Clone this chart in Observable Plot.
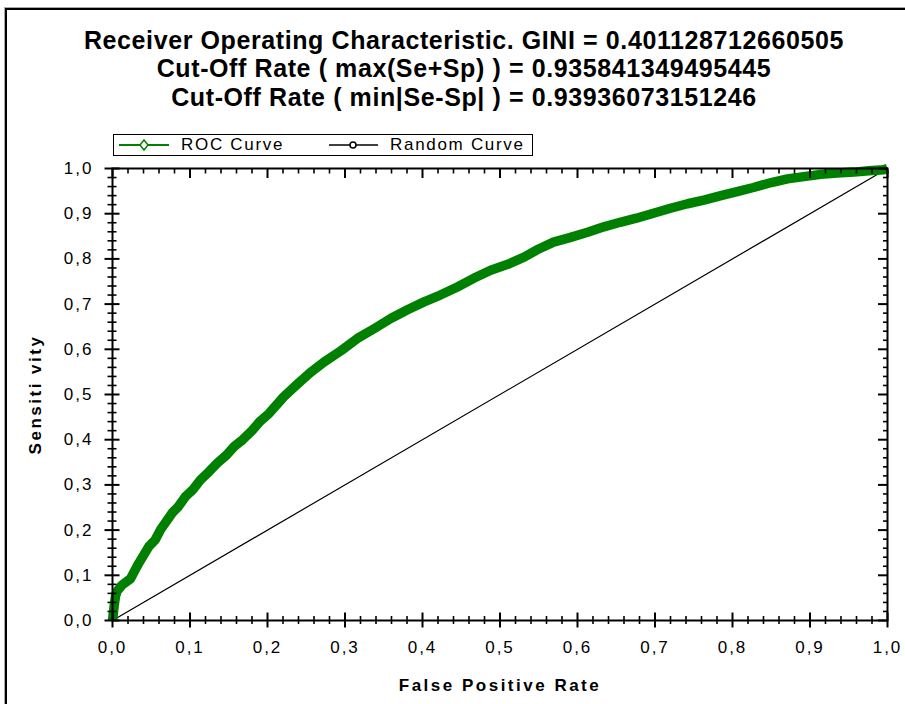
<!DOCTYPE html>
<html><head><meta charset="utf-8">
<script src="https://cdn.jsdelivr.net/npm/d3@7"></script>
<script src="https://cdn.jsdelivr.net/npm/@observablehq/plot@0.6"></script>
<style>
body{margin:0;background:#fff;}
#wrap{position:relative;width:905px;height:704px;overflow:hidden;font-family:"Liberation Sans",Arial,sans-serif;color:#000;}
#bord{position:absolute;left:5px;top:8px;width:2000px;height:2000px;border-left:2px solid #000;border-top:2px solid #000;box-shadow:-1px -1px 0 #aaa;}
.t{position:absolute;left:0;width:928px;text-align:center;font-weight:bold;font-size:25px;letter-spacing:0.6px;line-height:28px;white-space:nowrap;}
#legend{position:absolute;left:113px;top:134px;width:418px;height:20px;border:1.5px solid #000;background:#fff;}
#legend span{position:absolute;top:0px;font-size:17px;letter-spacing:1.7px;line-height:20px;}
#legend svg{position:absolute;left:0;top:0;}
#chart{position:absolute;left:0;top:158px;}
#chart [aria-label="x-axis tick label"] text,#chart [aria-label="y-axis tick label"] text{letter-spacing:2px;font-weight:normal;}
#chart [aria-label="x-axis label"] text,#chart [aria-label="y-axis label"] text{letter-spacing:2.5px;font-weight:bold;}
</style>
</head><body>
<div id="wrap">
  <div id="bord"></div>
  <div class="t" id="t1" style="top:26px"></div>
  <div class="t" id="t2" style="top:54px"></div>
  <div class="t" id="t3" style="top:83px"></div>
  <div id="legend">
    <svg width="418" height="20">
      <line x1="5" y1="10" x2="55" y2="10" stroke="#008000" stroke-width="2"/>
      <path d="M30,5 L34,10 L30,15 L26,10 Z" fill="#fff" stroke="#008000" stroke-width="1.5"/>
      <line x1="215" y1="10" x2="264" y2="10" stroke="#000" stroke-width="1.5"/>
      <circle cx="239" cy="10" r="3" fill="#fff" stroke="#000" stroke-width="1.5"/>
    </svg>
    <span id="l1" style="left:67px"></span>
    <span id="l2" style="left:276px"></span>
  </div>
  <div id="chart"></div>
</div>
<script>
const titleLines = [
  "Receiver Operating Characteristic. GINI = 0.401128712660505",
  "Cut-Off Rate ( max(Se+Sp) ) = 0.935841349495445",
  "Cut-Off Rate ( min|Se-Sp| ) = 0.93936073151246"
];
const seriesNames = ["ROC Curve", "Random Curve"];
const xLabel = "False Positive Rate";
const yLabel = "Sensiti vity";
const tickValues = [0, 0.1, 0.2, 0.3, 0.4, 0.5, 0.6, 0.7, 0.8, 0.9, 1.0];
const tickLabels = ["0,0","0,1","0,2","0,3","0,4","0,5","0,6","0,7","0,8","0,9","1,0"];
const minorTicks = [0.02,0.04,0.06,0.08,0.12,0.14,0.16,0.18,0.22,0.24,0.26,0.28,0.32,0.34,0.36,0.38,0.42,0.44,0.46,0.48,0.52,0.54,0.56,0.58,0.62,0.64,0.66,0.68,0.72,0.74,0.76,0.78,0.82,0.84,0.86,0.88,0.92,0.94,0.96,0.98];

const rocFpr = [0,0.002,0.004,0.006,0.012,0.023,0.034,0.047,0.055,0.062,0.077,0.085,0.094,0.104,0.1135,0.125,0.135,0.147,0.157,0.168,0.18,0.19,0.202,0.221,0.238,0.255,0.273,0.295,0.316,0.338,0.359,0.38,0.402,0.423,0.445,0.466,0.488,0.51,0.531,0.55,0.569,0.59,0.613,0.634,0.655,0.676,0.698,0.72,0.742,0.763,0.785,0.806,0.827,0.85,0.871,0.892,0.914,0.935,0.957,0.976,0.995,1];
const rocTpr = [0,0.03,0.055,0.065,0.078,0.092,0.127,0.164,0.178,0.201,0.238,0.252,0.274,0.29,0.311,0.33,0.348,0.366,0.385,0.40,0.42,0.44,0.458,0.495,0.522,0.548,0.572,0.597,0.624,0.646,0.668,0.687,0.705,0.72,0.738,0.757,0.775,0.788,0.804,0.822,0.837,0.847,0.859,0.871,0.881,0.89,0.901,0.912,0.922,0.93,0.94,0.949,0.958,0.969,0.977,0.982,0.987,0.99,0.992,0.995,0.997,1];
const randFpr = [0, 1];
const randTpr = [0, 1];

document.getElementById("t1").textContent = titleLines[0];
document.getElementById("t2").textContent = titleLines[1];
document.getElementById("t3").textContent = titleLines[2];
document.getElementById("l1").textContent = seriesNames[0];
document.getElementById("l2").textContent = seriesNames[1];

const roc = rocFpr.map((x, i) => ({x, y: rocTpr[i]}));
const rnd = randFpr.map((x, i) => ({x, y: randTpr[i]}));
const fmt = d => tickLabels[tickValues.findIndex(v => Math.abs(v - d) < 1e-9)];

const chart = Plot.plot({
  width: 905, height: 546,
  marginTop: 10, marginLeft: 112, marginRight: 18, marginBottom: 84,
  style: {fontFamily: '"Liberation Sans", Arial, sans-serif', fontSize: "17px", color: "#000", background: "transparent"},
  x: {domain: [0, 1]},
  y: {domain: [0, 1]},
  marks: [
    Plot.line(rnd, {x: "x", y: "y", stroke: "#000", strokeWidth: 1.2}),
    Plot.line(roc, {x: "x", y: "y", stroke: "#008000", strokeWidth: 9.5, strokeLinejoin: "round", strokeLinecap: "butt"}),
    Plot.frame({stroke: "#000", strokeWidth: 2}),
    Plot.axisX(tickValues, {anchor: "bottom", tickSize: 15, dy: -7.5, fill: "none", label: null, strokeWidth: 2}),
    Plot.axisX(minorTicks, {anchor: "bottom", tickSize: 8, dy: -4, fill: "none", label: null, strokeWidth: 1.6}),
    Plot.axisX(tickValues, {anchor: "bottom", tickSize: 0, tickPadding: 20, tickFormat: fmt, label: xLabel, labelAnchor: "center", labelArrow: "none", labelOffset: 70}),
    Plot.axisX(tickValues, {anchor: "top", tickSize: 9, dy: 9, fill: "none", label: null, strokeWidth: 2}),
    Plot.axisX(minorTicks, {anchor: "top", tickSize: 4.5, dy: 4.5, fill: "none", label: null, strokeWidth: 1.6}),
    Plot.axisY(tickValues, {anchor: "left", tickSize: 15, dx: 7.5, fill: "none", label: null, strokeWidth: 2}),
    Plot.axisY(minorTicks, {anchor: "left", tickSize: 9, dx: 4.5, fill: "none", label: null, strokeWidth: 1.6}),
    Plot.axisY(tickValues, {anchor: "left", tickSize: 0, tickPadding: 19, tickFormat: fmt, label: yLabel, labelAnchor: "center", labelArrow: "none", labelOffset: 84}),
    Plot.axisY(tickValues, {anchor: "right", tickSize: 10, dx: -10, fill: "none", label: null, strokeWidth: 2}),
    Plot.axisY(minorTicks, {anchor: "right", tickSize: 5, dx: -5, fill: "none", label: null, strokeWidth: 1.6})
  ]
});
document.getElementById("chart").appendChild(chart);
</script>
</body></html>
